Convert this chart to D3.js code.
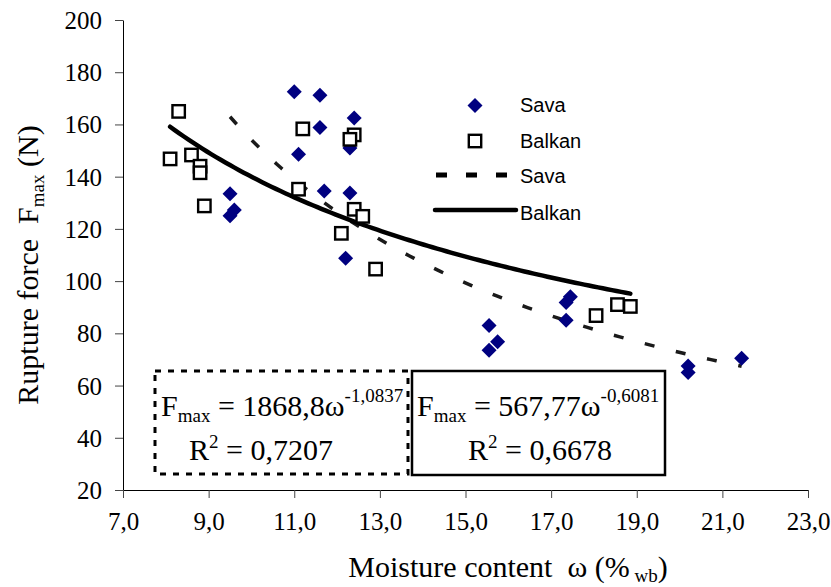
<!DOCTYPE html>
<html>
<head>
<meta charset="utf-8">
<script src="https://cdn.jsdelivr.net/npm/d3@7/dist/d3.min.js"></script>
<style>
  html, body { margin: 0; padding: 0; background: #fff; }
  svg { display: block; }
</style>
</head>
<body>
<svg id="chart" width="831" height="587"></svg>
<script>
// ---- data ----
const xTicks = [7, 9, 11, 13, 15, 17, 19, 21, 23];
const yTicks = [20, 40, 60, 80, 100, 120, 140, 160, 180, 200];

const savaMoisture = [11.0, 11.6, 11.6, 12.4, 12.3, 11.1, 11.7, 12.3, 9.5, 9.6, 9.5, 12.2,
                      15.55, 15.55, 15.75, 17.45, 17.35, 17.35, 20.2, 20.2, 21.45];
const savaForce    = [172.5, 171.2, 158.8, 162.5, 151.0, 148.6, 134.5, 133.7, 133.5, 127.2, 125.0, 108.8,
                      83.0, 73.5, 76.8, 94.0, 91.8, 85.0, 67.5, 65.0, 70.5];

const balkanMoisture = [8.3, 8.1, 8.6, 8.8, 8.8, 8.9, 11.2, 12.4, 12.3, 11.1, 12.4, 12.6, 12.1, 12.9,
                        18.05, 18.55, 18.85];
const balkanForce    = [165.0, 146.8, 148.3, 144.0, 141.5, 128.8, 158.3, 156.0, 154.3, 135.2, 127.5, 124.8, 118.3, 104.6,
                        86.8, 91.0, 90.3];

// power trend lines F = a * w^b (from the chart's equations)
const savaTrend   = [1868.8, -1.0837];
const balkanTrend = [567.77, -0.6081];
const savaEqText   = ["1868,8", "-1,0837", "0,7207"];
const balkanEqText = ["567,77", "-0,6081", "0,6678"];

const legendLabels = ["Sava", "Balkan", "Sava", "Balkan"];

// ---- drawing ----
const svg = d3.select("#chart");
const serif = "'Liberation Serif', 'Times New Roman', serif";
const sans = "'Liberation Sans', Arial, sans-serif";
const NB = "\u00a0";

const x = d3.scaleLinear().domain([7, 23]).range([123, 808]);
const y = d3.scaleLinear().domain([20, 200]).range([490, 20]);

const loc = d3.formatLocale({decimal: ",", thousands: ".", grouping: [3], currency: ["", ""]});
const fmt1 = loc.format(".1f");

// axes
const yAxis = svg.append("g").attr("transform", `translate(${x(7)},0)`)
  .call(d3.axisLeft(y).tickValues(yTicks).tickSize(8).tickSizeOuter(0).tickPadding(13).tickFormat(d3.format("d")));
const xAxis = svg.append("g").attr("transform", `translate(0,${y(20)})`)
  .call(d3.axisBottom(x).tickValues(xTicks).tickSize(8).tickSizeOuter(0).tickPadding(14).tickFormat(fmt1));
[yAxis, xAxis].forEach(g => {
  g.selectAll("path.domain").attr("stroke", "#000").attr("stroke-width", 1);
  g.selectAll(".tick line").attr("stroke", "#444").attr("stroke-width", 1);
  g.selectAll(".tick text").attr("font-family", serif).attr("font-size", 25).attr("fill", "#000");
});
yAxis.selectAll(".tick text").attr("dy", "0.34em");
xAxis.selectAll(".tick text").attr("dy", "0.72em");

// axis titles
const yt = svg.append("text")
  .attr("transform", `translate(38,265) rotate(-90)`)
  .attr("text-anchor", "middle")
  .attr("font-family", serif).attr("font-size", 30).attr("fill", "#000");
yt.append("tspan").text("Rupture force" + NB + NB + "F");
yt.append("tspan").attr("font-size", 19).attr("dy", 6).text("max");
yt.append("tspan").attr("dy", -6).text(NB + "(N)");

const xt = svg.append("text")
  .attr("x", 508).attr("y", 577)
  .attr("text-anchor", "middle")
  .attr("font-family", serif).attr("font-size", 30).attr("fill", "#000");
xt.append("tspan").text("Moisture content" + NB + NB + "ω (%");
xt.append("tspan").attr("font-size", 19).attr("dy", 5).text(NB + "wb");
xt.append("tspan").attr("dy", -5).text(")");

// trend lines
function trendPoints(coef, xs) {
  const lo = d3.min(xs), hi = d3.max(xs);
  return d3.range(0, 101).map(i => {
    const w = lo + (hi - lo) * i / 100;
    return [w, coef[0] * Math.pow(w, coef[1])];
  });
}
const line = d3.line().x(d => x(d[0])).y(d => y(d[1]));

svg.append("path")
  .datum(trendPoints(savaTrend, savaMoisture))
  .attr("d", line)
  .attr("fill", "none").attr("stroke", "#1a1a1a").attr("stroke-width", 3.5)
  .attr("stroke-dasharray", "10,22");

svg.append("path")
  .datum(trendPoints(balkanTrend, balkanMoisture))
  .attr("d", line)
  .attr("fill", "none").attr("stroke", "#000").attr("stroke-width", 4.5)
  .attr("stroke-linecap", "round");

// markers
const diamond = "M0,-7.5L7.5,0L0,7.5L-7.5,0Z";
const sava = savaMoisture.map((m, i) => [m, savaForce[i]]);
const balkan = balkanMoisture.map((m, i) => [m, balkanForce[i]]);

svg.append("g").selectAll("path").data(sava).join("path")
  .attr("d", diamond)
  .attr("transform", d => `translate(${x(d[0])},${y(d[1])})`)
  .attr("fill", "#000080");

svg.append("g").selectAll("rect").data(balkan).join("rect")
  .attr("x", d => x(d[0]) - 6.2).attr("y", d => y(d[1]) - 6.2)
  .attr("width", 12.4).attr("height", 12.4)
  .attr("fill", "#fff").attr("stroke", "#000").attr("stroke-width", 2.4);

// legend
const lg = svg.append("g");
lg.append("path").attr("d", diamond).attr("transform", "translate(475,105.5)").attr("fill", "#000080");
lg.append("rect").attr("x", 468.8).attr("y", 134.8).attr("width", 12.4).attr("height", 12.4)
  .attr("fill", "#fff").attr("stroke", "#000").attr("stroke-width", 2.4);
lg.append("line").attr("x1", 436).attr("x2", 508).attr("y1", 175).attr("y2", 175)
  .attr("stroke", "#000").attr("stroke-width", 5).attr("stroke-dasharray", "11,19");
lg.append("line").attr("x1", 435).attr("x2", 516).attr("y1", 210).attr("y2", 210)
  .attr("stroke", "#000").attr("stroke-width", 4.5).attr("stroke-linecap", "round");
const legendY = [112, 148, 183, 220];
lg.selectAll("text").data(legendLabels).join("text")
  .attr("x", 520).attr("y", (d, i) => legendY[i])
  .attr("font-family", sans).attr("font-size", 20).attr("fill", "#000")
  .text(d => d);

// equation boxes
svg.append("rect").attr("x", 155).attr("y", 371).attr("width", 253).attr("height", 103)
  .attr("fill", "none").attr("stroke", "#000").attr("stroke-width", 3).attr("stroke-dasharray", "6,7");
svg.append("rect").attr("x", 412).attr("y", 371).attr("width", 253).attr("height", 104)
  .attr("fill", "#fff").attr("stroke", "#000").attr("stroke-width", 2.5);

function equation(x0, y0, eq) {
  const t = svg.append("text").attr("x", x0).attr("y", y0)
    .attr("font-family", serif).attr("font-size", 30).attr("fill", "#000");
  t.append("tspan").text("F");
  t.append("tspan").attr("font-size", 19).attr("dy", 6).text("max");
  t.append("tspan").attr("dy", -6).text(" = " + eq[0] + "ω");
  t.append("tspan").attr("font-size", 19).attr("dy", -14).text(eq[1]);
}
function r2(x0, y0, val) {
  const t = svg.append("text").attr("x", x0).attr("y", y0)
    .attr("font-family", serif).attr("font-size", 30).attr("fill", "#000");
  t.append("tspan").text("R");
  t.append("tspan").attr("font-size", 19).attr("dy", -12).text("2");
  t.append("tspan").attr("dy", 12).text(" = " + val);
}
equation(161, 416, savaEqText);
r2(189, 460, savaEqText[2]);
equation(417, 416, balkanEqText);
r2(468, 460, balkanEqText[2]);
</script>
</body>
</html>
